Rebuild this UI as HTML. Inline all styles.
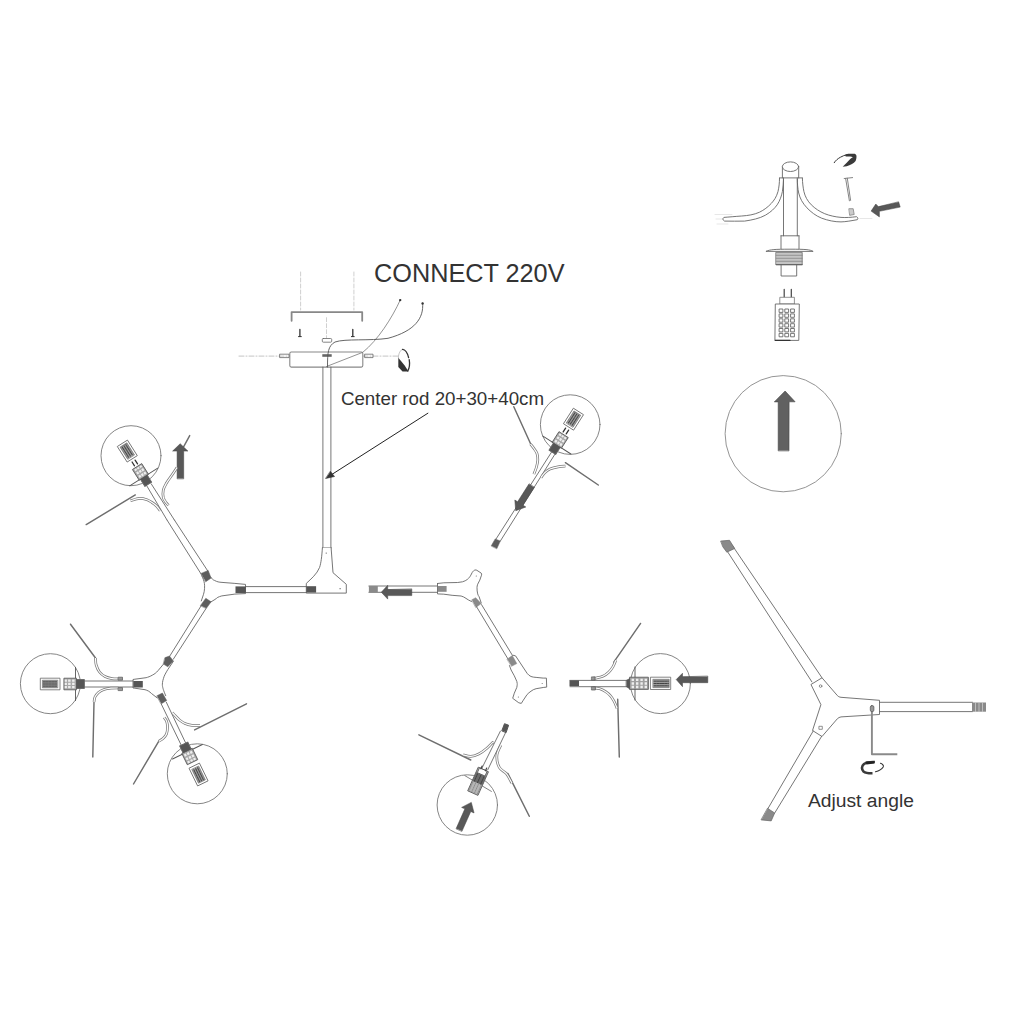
<!DOCTYPE html>
<html><head><meta charset="utf-8"><style>
html,body{margin:0;padding:0;background:#fff;width:1012px;height:1012px;overflow:hidden}
svg{display:block}
.to{fill:none;stroke:#7a7a7a;stroke-width:2.7;stroke-linecap:butt}
.ti{fill:none;stroke:#fff;stroke-width:1.2;stroke-linecap:butt}
text{font-family:"Liberation Sans",sans-serif}
</style></head><body>
<svg width="1012" height="1012" viewBox="0 0 1012 1012">
<defs>
<g id="sock">
  <rect x="0" y="-4.5" width="8" height="9" fill="#555"/>
  <rect x="8" y="-5.8" width="12.2" height="11.6" fill="#a8a8a8" stroke="#555" stroke-width="0.8"/>
  <path d="M9.5 -4.3h2.5v2.3h-2.5zM13.5 -4.3h2.5v2.3h-2.5zM17.2 -4.3h2.2v2.3h-2.2zM9.5 -1h2.5v2.3h-2.5zM13.5 -1h2.5v2.3h-2.5zM17.2 -1h2.2v2.3h-2.2zM9.5 2.3h2.5v2.2h-2.5zM13.5 2.3h2.5v2.2h-2.5zM17.2 2.3h2.2v2.2h-2.2z" fill="#eee" stroke="none"/>
  <rect x="24.5" y="-5.8" width="19.3" height="11.6" fill="#fff" stroke="#666" stroke-width="0.8"/>
  <rect x="26.7" y="-3.8" width="15" height="7.6" fill="#9a9a9a" stroke="#666" stroke-width="0.6"/>
  <path d="M27.5 -2.1H41M27.5 0H41M27.5 2.1H41" stroke="#444" stroke-width="1" stroke-dasharray="2 0.8"/>
</g>
<g id="neck" fill="none">
  <path d="M8.6 -16.6V16.6" stroke="#555" stroke-width="0.9"/>
</g>
<g id="sockL">
  <rect x="0" y="-4" width="8.7" height="8" fill="#555"/>
  <rect x="8.7" y="-5.5" width="12.3" height="11" fill="#a8a8a8" stroke="#555" stroke-width="0.8"/>
  <path d="M10 -4h2.5v2.2h-2.5zM14 -4h2.5v2.2h-2.5zM18 -4h2v2.2h-2zM10 -1h2.5v2.2h-2.5zM14 -1h2.5v2.2h-2.5zM18 -1h2v2.2h-2zM10 2h2.5v2.2h-2.5zM14 2h2.5v2.2h-2.5zM18 2h2v2.2h-2z" fill="#eee" stroke="none"/>
  <path d="M23 -1.8H27.5M23 1.8H27.5" stroke="#333" stroke-width="1.3"/>
  <rect x="30.5" y="-6" width="18" height="12" fill="#fff" stroke="#666" stroke-width="0.8"/>
  <rect x="32.5" y="-4" width="14" height="8" fill="#9a9a9a" stroke="#666" stroke-width="0.6"/>
  <path d="M33.5 -2.2H45.5M33.5 0H45.5M33.5 2.2H45.5" stroke="#444" stroke-width="1" stroke-dasharray="2 0.8"/>
</g>
<!-- WIREDEFS -->
<path id="wA1" d="M130.5 500.8C132.0 500.4 136.8 498.6 139.5 498.4C142.2 498.2 144.9 499.1 147.0 499.8C149.1 500.5 150.4 501.5 152.0 502.5C153.6 503.5 155.1 504.6 156.5 506.0C157.9 507.4 159.6 510.0 160.2 510.8"/>
<path id="wA2" d="M177.0 467.5C176.2 468.8 173.8 472.4 172.0 475.0C170.2 477.6 167.9 480.5 166.5 483.0C165.1 485.5 163.8 487.6 163.3 490.0C162.8 492.4 162.9 495.4 163.3 497.5C163.8 499.6 165.1 501.2 166.0 502.5C166.9 503.8 168.1 504.8 168.5 505.3"/>
<path id="wB1" d="M95.5 658.0C95.6 659.2 95.5 662.7 96.2 665.0C96.9 667.3 98.0 670.1 99.5 672.0C101.0 673.9 102.9 675.4 105.0 676.5C107.1 677.6 109.7 678.2 112.0 678.6C114.3 679.0 117.6 678.9 118.7 679.0"/>
<path id="wB2" d="M94.0 702.0C94.2 701.2 94.2 698.6 95.0 697.0C95.8 695.4 97.0 693.8 98.5 692.5C100.0 691.2 101.9 690.2 104.0 689.5C106.1 688.8 108.5 688.5 111.0 688.2C113.5 688.0 117.4 688.0 118.7 688.0"/>
<path id="wC1" d="M200.0 725.5C198.7 725.5 194.5 725.6 192.0 725.3C189.5 725.0 187.1 724.4 185.0 723.5C182.9 722.6 181.1 721.2 179.5 720.0C177.9 718.8 176.7 717.2 175.5 716.0C174.3 714.8 172.8 713.1 172.3 712.5"/>
<path id="wC2" d="M158.7 741.3C159.4 740.8 161.7 739.7 163.0 738.5C164.3 737.3 165.8 735.9 166.5 734.0C167.2 732.1 167.5 729.2 167.5 727.0C167.5 724.8 167.1 722.6 166.5 721.0C165.9 719.4 164.5 718.0 164.1 717.4"/>
<path id="wD1" d="M530.5 444.0C531.1 444.8 532.9 446.9 534.0 448.5C535.1 450.1 536.4 451.6 537.0 453.5C537.6 455.4 537.9 457.8 537.8 460.0C537.7 462.2 537.1 464.6 536.5 467.0C535.9 469.4 534.3 472.9 533.9 474.1"/>
<path id="wD2" d="M565.5 466.0C564.2 466.1 560.6 466.3 558.0 466.8C555.4 467.3 552.2 468.1 550.0 469.0C547.8 469.9 546.5 471.1 545.0 472.5C543.5 473.9 541.7 476.7 541.0 477.5"/>
<path id="wE1" d="M615.8 660.3C615.3 661.4 614.1 664.9 612.9 666.9C611.7 668.9 610.4 670.6 608.7 672.2C607.0 673.8 604.8 675.4 602.8 676.3C600.8 677.2 598.5 677.5 596.9 677.8C595.3 678.1 593.6 678.2 593.0 678.3"/>
<path id="wE2" d="M593.0 687.7C594.1 687.9 597.7 688.1 599.8 688.8C601.9 689.5 603.9 690.5 605.7 691.7C607.5 692.9 609.1 694.3 610.5 695.9C611.9 697.5 613.0 699.4 614.0 701.2C615.0 703.0 615.9 705.4 616.4 706.6C616.9 707.8 616.9 708.0 617.0 708.3"/>
<path id="wF1" d="M462.9 754.8C464.2 755.1 468.2 756.5 470.8 756.4C473.4 756.3 476.1 755.3 478.7 754.0C481.3 752.7 484.4 750.4 486.6 748.5C488.9 746.6 491.0 744.0 492.2 742.9C493.4 741.8 493.4 742.2 493.7 742.1"/>
<path id="wF2" d="M500.8 745.3C500.1 747.0 497.1 751.9 496.9 755.6C496.6 759.3 497.7 764.4 499.3 767.4C500.9 770.4 504.3 771.1 506.4 773.7C508.5 776.3 511.0 781.6 511.9 783.2"/>
</defs>
<g fill="none" stroke="#666" stroke-width="0.9" stroke-linecap="round" stroke-linejoin="round">

<!-- ===== CEILING / CANOPY ===== -->
<path d="M300.6 272V310M353.9 272V310M326.5 317.7V338" stroke="#bbb" stroke-width="0.7" stroke-dasharray="4 2"/>
<path d="M291.6 320.8V312.1H362.2V320.8" stroke="#888" stroke-width="1.8"/>
<path d="M299.9 329.5V336.3M352.8 329.5V336.3" stroke="#333" stroke-width="1.3"/>
<path d="M298.5 336.6H301.3M351.4 336.6H354.2" stroke="#333" stroke-width="1"/>
<rect x="322.3" y="338.5" width="9.4" height="3.7" rx="1" stroke="#666" stroke-width="0.8"/>
<path d="M239 356.1H289M363 356.1H398" stroke="#aaa" stroke-width="0.7" stroke-dasharray="5 2 1 2"/>
<rect x="289.8" y="352" width="73" height="15.1" rx="1.5" fill="#fff" stroke="#888" stroke-width="1.1"/>
<rect x="280" y="354.2" width="9" height="3.4" stroke-width="0.8"/>
<rect x="365" y="354.2" width="8" height="3.4" stroke-width="0.8"/>
<rect x="322.3" y="354.2" width="9.4" height="2.6" fill="#666" stroke="none"/>
<path d="M400.2 300.1C392 318 378 340 362.8 352.3L326.5 366.5" stroke="#777" stroke-width="0.8"/>
<path d="M422.6 303.2C424 318 415 331 388 338.3C370 341 345 338.5 335 342C328 346 327.5 352 327.5 367" stroke="#555" stroke-width="0.9"/>
<circle cx="400.2" cy="300.1" r="1.2" fill="#333" stroke="none"/>
<circle cx="422.6" cy="303.4" r="1.2" fill="#333" stroke="none"/>
<!-- rotation icon -->
<path d="M398.4 358C398.3 353.5 400.5 349.5 403 349.2" stroke="#aaa" stroke-width="0.7"/>
<path d="M402.5 349.3C405 349.5 407.5 353 408.6 357.6M409.2 359.6C409.8 363 409.7 367.5 407.8 371" stroke="#333" stroke-width="1.3"/>
<path d="M398.3 357.7L404.7 365.6L408.5 371.5L402.5 371.6L398.3 367Z" fill="#333" stroke="none"/>
<text x="374" y="282.2" font-size="25.6" fill="#333" stroke="none" textLength="190.5" lengthAdjust="spacingAndGlyphs">CONNECT 220V</text>

<!-- ===== CENTER ROD ===== -->
<path d="M322.9 367.1V548M330.9 367.1V548"/>
<path d="M322.4 547.8H331.1"/>
<path d="M322.4 547.8C321.8 557 321 563 319.6 567.4C317 574 311 579 306.3 583.4V593.1H346.3V584.3L333 572.7L331.1 547.8" fill="#fff"/>
<circle cx="326.2" cy="553.1" r="0.6" fill="#555" stroke="none"/>
<circle cx="340.1" cy="588.7" r="0.6" fill="#555" stroke="none"/>
<text x="340.9" y="405.4" font-size="18.3" fill="#333" stroke="none" textLength="203.2" lengthAdjust="spacingAndGlyphs">Center rod 20+30+40cm</text>
<path d="M427.9 413.2L331 475" stroke="#222" stroke-width="1"/>
<path d="M325.9 478.4L334.5 476.5L330.5 471.5Z" fill="#333" stroke="#333" stroke-width="0.6"/>

<!-- horizontal rod left -->
<path d="M245.8 586.6H306.3M245.8 592.6H306.3"/>
<rect x="306.3" y="586.2" width="9.8" height="6.4" fill="#555" stroke="none"/>

<!-- ===== LEFT JUNCTION J1 ===== -->
<path d="M167 520L201.3 574.3M174.4 520L208 571.3"/>
<path d="M146.4 485.2L167 520M151.2 483.8L174.4 520"/>
<path d="M210.6 576.9C212 579 213 580 214.7 580.5C217 581.8 219 582.2 222 582.4L234.9 583.4L245.5 584.4V593.6L234.9 594.1L221.8 595.9C218.5 596.8 216.5 597.8 215.9 598.9L210.3 602.3 M201.7 575.7C203 578 204 581 204.4 583.4C204.8 586 204.7 591 203.4 594.7L201.3 600.9" fill="#fff"/>
<rect x="235.5" y="586.4" width="10.3" height="6.7" fill="#555" stroke="none"/>
<path d="M201.1 573.4L208.2 570.4L211.1 578.1L205.8 581.7Z" fill="#5e5e5e" stroke="#5e5e5e" stroke-width="0.5"/>
<path d="M200.5 605.4L205.8 598.3L211.1 601.8L206.4 608.3Z" fill="#5e5e5e" stroke="#5e5e5e" stroke-width="0.5"/>
<!-- arm J1 -> J2 -->
<path d="M201 606L169.5 656.5M205.9 608.7L173.3 659.2"/>
<!-- J2 body -->
<path d="M163.5 664.1L158 670.7C156 673 154.5 674 152.6 675C150 676.5 148 677.2 146.1 677.7L134.1 679.3L133 679.5V688L134.1 688.1L145 689.7C147.5 690.3 149.5 691.5 151.5 693.5L157 697.8 M173.3 661.4L167.8 669.6C166 672.5 164 676 163.5 678.3C162.6 681 162.2 684 162.4 685.5C162.8 688 163.3 690 165.7 695.7" fill="#fff"/>
<path d="M165.1 657.6L169.5 656L173.3 660.9L167.8 666.8L163.5 664.1Z" fill="#5e5e5e" stroke="#5e5e5e" stroke-width="0.5"/>
<rect x="133.3" y="681" width="9.5" height="6.5" fill="#555" stroke="none"/>
<path d="M157 695.7L162.4 693L166.7 700.5L161.3 703.8Z" fill="#5e5e5e" stroke="#5e5e5e" stroke-width="0.5"/>
<!-- left rod to bulb B -->
<path d="M84.1 681H133M84.1 687H133"/>
<!-- lower arm to bulb C -->
<path d="M161.4 704.3L181.5 745.7M166.3 702.2L185.9 743.5"/>

<!-- ===== RIGHT STRUCTURE ===== -->
<path d="M368.9 586H438M368.9 592.3H438"/>
<rect x="368.9" y="586" width="8.9" height="6.3" fill="#8a8a8a" stroke="none"/>
<path d="M437.5 583.5L443.8 582.8L457.7 582.5L462.5 581.8C464.5 581.2 466 580.5 467.4 579.4C469 578 470.2 576.5 470.8 575.2L472.2 572.5C473 571.2 474 570.3 475 570C475.8 569.8 476.5 570 477 570.4L481.2 573.1C481.7 573.6 481.8 574.5 481.5 575.2L479.8 580.1L477.7 584.2C477.2 585.5 477 586.5 477 587.7C477 590 477.2 592 477.7 593.9C478 595 478.5 596 479.1 596.7L481.2 602.9 M437.5 583.5V593.9L443.8 594.2L452.1 595.3L461.1 596C463 596.5 464.5 597.3 466 598.4L468.7 600.1L471.5 601.5" fill="#fff"/>
<rect x="438" y="586" width="8.6" height="5.8" fill="#8a8a8a" stroke="none"/>
<path d="M471.8 599.8L475.7 597.7L481.2 603.6L476 607.4Z" fill="#8a8a8a" stroke="#8a8a8a" stroke-width="0.5"/>
<circle cx="476.3" cy="576" r="0.6" fill="#777" stroke="none"/>
<path d="M476.6 606.8L508 659M481.5 604.6L512.5 655.5"/>
<path d="M513.3 655.3L515.6 655.9L527.1 673.3C528.2 674.8 529.5 675.8 531 676.5C532.5 677 534 677.3 536.1 677.4L543.2 678.1H546.4L546.7 687.1L543.8 687.4L536.1 688.7C534 689.2 532.5 690 531 691.2C529.5 692.3 528.2 693.3 527.1 694.5L523.3 700.2L521.3 703.4L518.8 702.8L512.7 698.3L514.3 693.2L516.8 687.4C517.3 685 517.3 683.5 517.2 683.5C517 682 516.8 681 516.2 680L514.3 675.8L511.1 670L509.5 665.6" fill="#fff"/>
<path d="M507.2 659.1L512.3 655.6L516.8 663.6L511.7 666.2Z" fill="#8a8a8a" stroke="#8a8a8a" stroke-width="0.5"/>
<circle cx="542.2" cy="683.5" r="0.6" fill="#777" stroke="none"/>
<circle cx="518.4" cy="697" r="0.6" fill="#777" stroke="none"/>
<!-- arrow left on rod -->
<path d="M411.8 589.2V595.6H387.7V599.1L381.3 592.2L387.7 585.3V589.2Z" fill="#585858" stroke="#444" stroke-width="0.5"/>

<!-- ===== BULB D ===== -->
<circle cx="570.2" cy="424.6" r="29.8" stroke="#777"/>
<use href="#neck" transform="translate(552.3 452.3) rotate(-57.4)"/>
<path d="M552 451.4L495.8 539.4M556 452.5L500.3 541.1"/>
<path d="M491.3 545.7L495.2 538.9L500.3 541.1L496.9 548.5Z" fill="#5e5e5e" stroke="#5e5e5e" stroke-width="0.5"/>
<use href="#sockL" transform="translate(552.3 452.3) rotate(-57.4)"/>
<g transform="translate(531.6 485.8) rotate(122.5)">
  <path d="M0 -3.2H21V-6.5L29.5 0L21 6.5V3.2H0Z" fill="#585858" stroke="#444" stroke-width="0.5"/>
</g>
<path d="M513.8 406.7L530.7 444" stroke="#6e6e6e" stroke-width="1.45"/>
<path d="M598.3 485L565.4 462.7" stroke="#6e6e6e" stroke-width="1.45"/>

<!-- ===== BULB E ===== -->
<circle cx="660.4" cy="683.6" r="30" stroke="#777"/>
<path d="M570 680.4H626.4M570 686.7H626.4"/>
<rect x="569.5" y="680.4" width="9.5" height="5.6" fill="#555" stroke="none"/>
<use href="#neck" transform="translate(626.4 683.5)"/>
<g transform="translate(626.4 683.5)">
  <path d="M0 -3.2L3.5 -5V5.5L0 3.2Z" fill="#555" stroke="#555" stroke-width="0.6"/>
  <rect x="3.5" y="-6.3" width="18.5" height="12.2" fill="#a0a0a0" stroke="#555" stroke-width="0.8"/>
  <path d="M5.2 -4.8h2.4v2.4h-2.4zM9.6 -4.8h2.4v2.4h-2.4zM14 -4.8h2.4v2.4h-2.4zM18.2 -4.8h2.4v2.4h-2.4zM5.2 -1.2h2.4v2.4h-2.4zM9.6 -1.2h2.4v2.4h-2.4zM14 -1.2h2.4v2.4h-2.4zM18.2 -1.2h2.4v2.4h-2.4zM5.2 2.3h2.4v2.4h-2.4zM9.6 2.3h2.4v2.4h-2.4zM14 2.3h2.4v2.4h-2.4zM18.2 2.3h2.4v2.4h-2.4z" fill="#eee" stroke="none"/>
  <rect x="24.4" y="-6.3" width="19.9" height="12.3" fill="#fff" stroke="#666" stroke-width="0.8"/>
  <rect x="26.8" y="-4.2" width="16" height="8.3" fill="#9a9a9a" stroke="#666" stroke-width="0.6"/>
  <path d="M27.6 -2.3H42M27.6 0H42M27.6 2.3H42" stroke="#444" stroke-width="1" stroke-dasharray="2 0.8"/>
</g>
<path d="M707.8 676.4V682.7H682.5V686.7L676.2 679.6L682.5 673.2V676.4Z" fill="#585858" stroke="#444" stroke-width="0.5"/>
<path d="M640.6 623.4L613.8 662.2" stroke="#6e6e6e" stroke-width="1.45"/>
<path d="M619.3 757L617.7 699.3" stroke="#6e6e6e" stroke-width="1.45"/>

<!-- ===== BULB F ===== -->
<circle cx="467.3" cy="805" r="30.2" stroke="#777"/>
<path d="M464.8 775.6L491.4 791.4" stroke="#777"/>
<path d="M500.4 731.1L481.9 768.2M505.6 732.6L487.8 769.7"/>
<path d="M501.9 730.5L504.5 723.7L508.6 725.2L506.2 732.3Z" fill="#555" stroke="#555" stroke-width="1"/>
<g transform="translate(483.2 769.8) rotate(114)">
  <rect x="0" y="-5.6" width="25.5" height="11.2" fill="#b5b5b5" stroke="#555" stroke-width="0.8"/>
  <rect x="0" y="-4.2" width="5" height="8.4" fill="#fff" stroke="#555" stroke-width="0.8"/>
  <rect x="5" y="-5.6" width="9.5" height="11.2" fill="#6a6a6a" stroke="none"/>
  <path d="M15 -4.5L24.5 -4.5M15 -1.5H24.5M15 1.5H24.5M15 4.5H24.5" stroke="#888" stroke-width="0.8" stroke-dasharray="1.2 1"/>
  <path d="M6 -3.5H14M6 0H14M6 3.5H14" stroke="#444" stroke-width="1" stroke-dasharray="1.3 0.9"/>
  <path d="M-3 -2.5H0M-3 2.5H0" stroke="#444" stroke-width="1.2"/>
</g>
<g transform="translate(459.1 829.8) rotate(-66)">
  <path d="M0 -3.2H21.5V-6.8L30 0L21.5 6.8V3.2H0Z" fill="#585858" stroke="#444" stroke-width="0.5"/>
</g>
<path d="M418.9 734.8L470.8 760" stroke="#6e6e6e" stroke-width="1.45"/>
<path d="M529.3 816.3L507.8 773.4" stroke="#6e6e6e" stroke-width="1.45"/>

<!-- ===== TOP RIGHT ASSEMBLY ===== -->
<path d="M715 214.5H732M716 219H730M717 224H728" stroke="#ddd" stroke-width="0.7"/>
<path d="M860 218.5H872" stroke="#ddd" stroke-width="0.7"/>
<path d="M779.5 178.2C779.5 183 779 187 778 191.5C776.5 197 774 200.5 771.3 203.4C768 207 764 210 759.5 212.2C754 214.7 748 215.6 741.7 216C735 216.5 729 217 723.9 217.4C722.5 218.5 722.5 220 724.6 221.1C731 221.1 738 221.3 744.6 221.1C752 220 759.5 218.5 765.4 215.2C771 212 774.5 208.5 777.2 204.8C780 200.5 781.5 196 782.4 191.5C783 187 783.4 183 783.5 178.9" fill="#fff" stroke="#666"/>
<path d="M802.4 178.2C802.5 183 803 187 803.9 191.5C805 196.5 807.5 201 811.3 204.8C815 208.5 819.5 211.5 824.7 213.7C830 215.8 835.5 216.9 841 217.4C846 217.8 851.5 217.3 856.5 216.7C858 217.5 858.3 218.8 857.3 219.7C851.5 220.7 846 221.8 841 221.9C834.5 221.9 828 220.5 821.7 218.2C815.5 215.7 811 212 806.9 207.8C802.5 203 800 198.5 798.7 193C797.7 188.5 797.3 183.5 797.3 178.9" fill="#fff" stroke="#666"/>
<path d="M782.4 166.7V177.9M798.7 166.7V177.9"/>
<ellipse cx="790.5" cy="166.7" rx="8.15" ry="4.8" fill="#fff"/>
<path d="M779.5 177.9H802.4"/>
<path d="M783.5 177.9V235.8M797.3 177.9V235.8"/>
<path d="M781 235.8H799M781 235.8V249.7M799 235.8V249.7" stroke="#666"/>
<path d="M766.3 251.2C770 249.5 775 249.2 790 249.2C805 249.2 810 249.5 812.8 251.2Z" fill="#fff" stroke="#666"/>
<rect x="776.2" y="252.3" width="26" height="12.3" fill="#c4c4c4" stroke="#777" stroke-width="0.9"/>
<path d="M776.2 255.3H802.2M776.2 258.3H802.2M776.2 261.3H802.2" stroke="#888" stroke-width="0.8"/>
<path d="M776.2 264.6H802.2" stroke="#666" stroke-width="1.1"/>
<path d="M781.1 264.4V276H796.7V264.4"/>
<!-- G4 bulb -->
<path d="M784.2 289.3V297.3M791.3 289.3V297.3" stroke="#444" stroke-width="1.2"/>
<rect x="780.2" y="297.3" width="14.2" height="6.7" fill="#fff" stroke="#777" stroke-width="0.8"/>
<path d="M775.7 304H799.3L798.8 340.4H775.3Z" fill="#fff" stroke="#666" stroke-width="0.9"/>
<path d="M775.3 340.4H790" stroke="#333" stroke-width="1.2"/>
<g fill="none" stroke="#555" stroke-width="0.8">
<rect x="779.5" y="309" width="3.4" height="3.4"/><rect x="785.2" y="309" width="3.4" height="3.4"/><rect x="791" y="309" width="3.4" height="3.4"/>
<rect x="779.5" y="313.9" width="3.4" height="3.4"/><rect x="785.2" y="313.9" width="3.4" height="3.4"/><rect x="791" y="313.9" width="3.4" height="3.4"/>
<rect x="779.5" y="318.8" width="3.4" height="3.4"/><rect x="785.2" y="318.8" width="3.4" height="3.4"/><rect x="791" y="318.8" width="3.4" height="3.4"/>
<rect x="779.5" y="323.7" width="3.4" height="3.4"/><rect x="785.2" y="323.7" width="3.4" height="3.4"/><rect x="791" y="323.7" width="3.4" height="3.4"/>
<rect x="779.5" y="328.5" width="3.4" height="3.4"/><rect x="785.2" y="328.5" width="3.4" height="3.4"/><rect x="791" y="328.5" width="3.4" height="3.4"/>
<rect x="779.5" y="333.4" width="3.4" height="3.4"/><rect x="785.2" y="333.4" width="3.4" height="3.4"/><rect x="791" y="333.4" width="3.4" height="3.4"/>
</g>
<!-- rotation icon top -->
<path d="M834.2 162.7C835.5 160.5 838 158.5 840.5 157.2C842.5 156 844.5 155.3 846.7 154.7" stroke="#333" stroke-width="1"/>
<path d="M844.9 155.1C846.5 154.2 848 153.8 849.3 153.8H854.7C856 154.3 856.7 155.5 856.5 156.9C856.4 158.3 856.2 159.6 855.6 160.9C854.6 162.2 853.4 163.2 852 164C850.3 165 848.5 165.7 846.7 166.2L842.7 166.7C844 165.3 845.3 164 846.7 162.7L850.2 159.1C851 158.3 852 157.7 852.9 157.3C852 156.8 851 156.5 850.2 156.5H845.8Z" fill="#3a3a3a" stroke="none"/>
<!-- L screw -->
<path d="M844.2 178.5L852.6 177.6M845.6 178.4L849.4 200.8M847.3 178.2L850.6 200.4" stroke="#777" stroke-width="0.9"/>
<path d="M849.2 208.7H853.2L854.2 214.5L850 215.3Z" fill="#ccc" stroke="#777" stroke-width="0.7"/>
<!-- arrow top right -->
<path d="M898.7 202.1L900.2 207.1L879.4 211.3L879.4 216.9L871.1 211.1L875.8 204L878.2 206.4Z" fill="#585858" stroke="#444" stroke-width="0.5"/>

<!-- ===== UP ARROW CIRCLE ===== -->
<circle cx="783.2" cy="433.7" r="58.1" stroke="#888"/>
<path d="M778.2 450.5L778.2 401.9H774.3L785.1 391L795.1 401.8H789.1L789 450.5Z" fill="#616161" stroke="#454545" stroke-width="0.6"/>

<!-- ===== ADJUST ANGLE ASSEMBLY ===== -->
<path d="M724.5 547L811.9 681.9M732 545L822 677.8"/>
<path d="M721 541L729.5 540.3L734.7 548.5L726.8 552.2L722.9 546.9Z" fill="#8a8a8a" stroke="#666" stroke-width="0.7"/>
<path d="M811.3 684.3L822 677.8L837.4 695.6C838.5 696.7 839.5 697.1 841 697.3L879.5 700.3V714.5L841 716.9C839.5 717.2 838.3 717.8 837.4 718.7L822 736.5L812.5 730.5L820.8 705Z" fill="#fff"/>
<circle cx="820.6" cy="686.1" r="1.3" stroke-width="0.7"/>
<rect x="819.3" y="726.3" width="3" height="3" stroke-width="0.7"/>
<path d="M813.2 731L767.8 808.8M821.6 736.4L774.7 813"/>
<path d="M767.8 808.5L774.7 813L771.2 820.9L761.4 819.9Z" fill="#8a8a8a" stroke="#666" stroke-width="0.7"/>
<path d="M879.5 702.3H972.5M879.5 711.6H972.5"/>
<rect x="972" y="702.5" width="14" height="9.2" fill="#8a8a8a" stroke="none"/>
<path d="M975.5 702.5V711.7M979 702.5V711.7M982.5 702.5V711.7" stroke="#ccc" stroke-width="0.8"/>
<!-- hex key -->
<path d="M871.9 710V754.3H897.3" stroke="#8a8a8a" stroke-width="1.9" stroke-linecap="butt"/>
<rect x="870.3" y="705.6" width="3.6" height="6" rx="1.5" fill="#999" stroke="#555" stroke-width="0.7"/>
<!-- rotation icon bottom -->
<path d="M874.8 762C870 761.8 866.5 762.3 864 764C861.5 766 861.3 769.5 863.5 771.5C865.5 773 869 773.4 872.5 773.3" stroke="#3a3a3a" stroke-width="2.6" stroke-linecap="butt"/>
<path d="M865.5 761.5L874.8 761.3L874.3 763.6L866.5 764.5Z" fill="#222" stroke="none"/>
<path d="M875.5 771.8C878.5 771 881.5 769.5 883.2 767C884 765.5 882.5 764 880.5 763.3" stroke="#333" stroke-width="1.1"/>
<text x="807.9" y="807.3" font-size="17.6" fill="#333" stroke="none" textLength="106" lengthAdjust="spacingAndGlyphs">Adjust angle</text>

<!-- ===== BULB A ===== -->
<circle cx="131" cy="455.7" r="30" stroke="#777"/>
<use href="#neck" transform="translate(148.3 484.3) rotate(-122.3)"/>
<use href="#sockL" transform="translate(148.3 484.3) rotate(-122.3)"/>
<!-- wires A -->
<path d="M86.2 524.6L135.3 494.9" stroke="#6e6e6e" stroke-width="1.45"/>
<path d="M189.7 435.6L183.7 446.7" stroke="#6e6e6e" stroke-width="1.45"/>
<!-- arrow A (up) -->
<path d="M177.1 478.5V451.1H172.6L180.2 443.7L187.9 451.1H183.7V478.5Z" fill="#585858" stroke="#444" stroke-width="0.5"/>

<!-- ===== BULB B ===== -->
<circle cx="50.4" cy="683.7" r="30" stroke="#777"/>
<use href="#neck" transform="translate(84.1 684) rotate(180)"/>
<g transform="translate(84.1 684) rotate(180)">
  <use href="#sock"/>
</g>
<!-- wires B -->
<path d="M70.5 624.2L95.5 658" stroke="#6e6e6e" stroke-width="1.45"/>
<path d="M92.8 756.9L94 702" stroke="#6e6e6e" stroke-width="1.45"/>

<!-- ===== BULB C ===== -->
<circle cx="197.3" cy="773.8" r="30" stroke="#777"/>
<use href="#neck" transform="translate(183.7 744) rotate(64.1)"/>
<g transform="translate(183.7 744) rotate(64.1)">
  <use href="#sock"/>
</g>
<!-- wires C -->
<path d="M246.5 703.8L194.6 729.9" stroke="#6e6e6e" stroke-width="1.45"/>
<path d="M133.5 784L158.7 741.3" stroke="#6e6e6e" stroke-width="1.45"/>

<!-- WIREUSES -->
<use href="#wA1" class="to"/><use href="#wA1" class="ti"/>
<use href="#wA2" class="to"/><use href="#wA2" class="ti"/>
<use href="#wB1" class="to"/><use href="#wB1" class="ti"/>
<use href="#wB2" class="to"/><use href="#wB2" class="ti"/>
<use href="#wC1" class="to"/><use href="#wC1" class="ti"/>
<use href="#wC2" class="to"/><use href="#wC2" class="ti"/>
<use href="#wD1" class="to"/><use href="#wD1" class="ti"/>
<use href="#wD2" class="to"/><use href="#wD2" class="ti"/>
<use href="#wE1" class="to"/><use href="#wE1" class="ti"/>
<use href="#wE2" class="to"/><use href="#wE2" class="ti"/>
<use href="#wF1" class="to"/><use href="#wF1" class="ti"/>
<use href="#wF2" class="to"/><use href="#wF2" class="ti"/>
<path d="M118.5 677.2h4v3h-4zM118.5 687.6h4v3h-4zM591.8 676.9h3.3v3.3h-3.3zM591.8 686.8h3.6v3.2h-3.6z" fill="#999" stroke="#555" stroke-width="0.7"/>
<!-- /WIREUSES -->
</g>
</svg>
</body></html>
